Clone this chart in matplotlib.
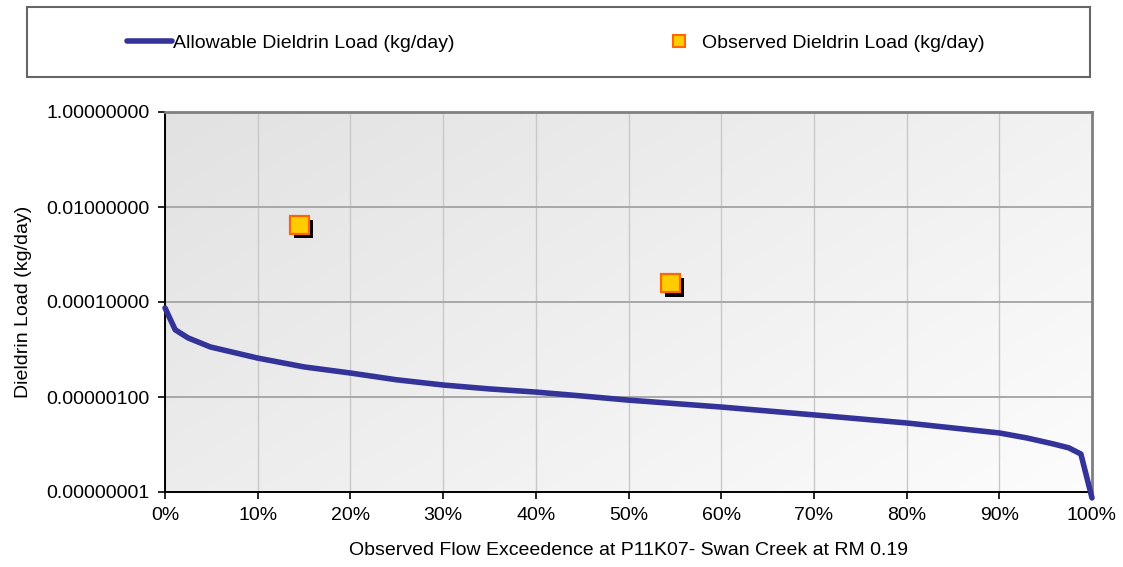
# -*- coding: utf-8 -*-
"""
Curva de duración de carga - Dieldrin, Swan Creek (P11K07)
"""
import numpy as np
import matplotlib
matplotlib.use('Agg')
import matplotlib.pyplot as plt
import matplotlib.patheffects as pe
from matplotlib.ticker import PercentFormatter, FixedLocator, FuncFormatter
from matplotlib.patches import Rectangle
from matplotlib.lines import Line2D

# =============================================================================
# DATOS
# =============================================================================
flow_exceedence = [0.000, 0.011, 0.025, 0.049, 0.10, 0.15, 0.20, 0.25, 0.30, 0.35,
                   0.40, 0.45, 0.50, 0.60, 0.70, 0.80, 0.90, 0.93, 0.958, 0.975,
                   0.988, 1.000]
allowable_load = [7.5e-5, 2.6e-5, 1.75e-5, 1.13e-5, 6.6e-6, 4.3e-6, 3.2e-6, 2.3e-6,
                  1.79e-6, 1.48e-6, 1.27e-6, 1.05e-6, 8.6e-7, 6.15e-7, 4.2e-7,
                  2.84e-7, 1.75e-7, 1.37e-7, 1.03e-7, 8.5e-8, 6.3e-8, 7.5e-9]

obs_exceedence = [0.145, 0.545]
observed_load = [4.2e-3, 2.5e-4]

y_ticks = [1e-8, 1e-6, 1e-4, 1e-2, 1.0]
x_ticks = [i / 10 for i in range(11)]

# =============================================================================
# ESTILO
# =============================================================================
plt.rcParams['font.family'] = ['Liberation Sans', 'DejaVu Sans']
plt.rcParams['font.size'] = 14

fig = plt.figure(figsize=(11.23, 5.67), dpi=100)
ax = fig.add_axes([165 / 1123, 1 - 492 / 567, 927 / 1123, 380 / 567])

# Fondo degradado gris (oscuro arriba-izquierda, claro abajo-derecha)
gx, gy = np.meshgrid(np.linspace(0, 1, 300), np.linspace(0, 1, 200))
t = 0.6 * gx + 0.4 * gy          # fila 0 = arriba
gris = 0.885 + (0.99 - 0.885) * t
fondo = np.dstack([gris, gris, gris])
ax.imshow(fondo, extent=(0, 1, 0, 1), transform=ax.transAxes,
          aspect='auto', zorder=0, origin='upper')

# Curva de carga permitida
ax.plot(flow_exceedence, allowable_load, color='#333399', lw=4.0,
        solid_capstyle='round', solid_joinstyle='round', clip_on=False, zorder=3)

# Cargas observadas con sombra
ax.plot(obs_exceedence, observed_load, ls='none', marker='s', markersize=13.5,
        markerfacecolor='#FFCC00', markeredgecolor='#FF6600', markeredgewidth=1.6,
        zorder=4,
        path_effects=[pe.SimplePatchShadow(offset=(3, -3), shadow_rgbFace='black',
                                           alpha=1.0), pe.Normal()])

# Ejes
ax.set_yscale('log')
ax.set_ylim(1e-8, 1)
ax.set_xlim(0, 1)
ax.yaxis.set_major_locator(FixedLocator(y_ticks))
ax.yaxis.set_minor_locator(FixedLocator([]))
ax.yaxis.set_major_formatter(FuncFormatter(lambda v, p: f'{v:.8f}'))
ax.xaxis.set_major_locator(FixedLocator(x_ticks))
ax.xaxis.set_major_formatter(PercentFormatter(xmax=1, decimals=0))

ax.tick_params(axis='both', direction='out', length=5, width=1.2, color='black',
               labelsize=14, pad=6)

# Rejilla
ax.xaxis.grid(True, color='#c8c8c8', lw=1.0, zorder=1)
ax.yaxis.grid(True, color='#a8a8a8', lw=1.4, zorder=1)
ax.set_axisbelow(True)

for side in ['top', 'right']:
    ax.spines[side].set_color('#808080')
    ax.spines[side].set_linewidth(2)
for side in ['left', 'bottom']:
    ax.spines[side].set_color('black')
    ax.spines[side].set_linewidth(1.4)

ax.set_xlabel('Observed Flow Exceedence at P11K07- Swan Creek at RM 0.19',
              fontsize=14, labelpad=13)
ax.set_ylabel('Dieldrin Load (kg/day)', fontsize=14)
ax.yaxis.set_label_coords(-0.1435, 0.5)

# =============================================================================
# LEYENDA (caja arriba)
# =============================================================================
box = Rectangle((27 / 1123, 1 - 77 / 567), (1090 - 27) / 1123, 70 / 567,
                transform=fig.transFigure, facecolor='white', edgecolor='#666666',
                lw=1.5, zorder=0)
fig.patches.append(box)

handles = [
    Line2D([], [], color='#333399', lw=4.0, solid_capstyle='round'),
    Line2D([], [], ls='none', marker='s', markersize=9, markerfacecolor='#FFCC00',
           markeredgecolor='#FF6600', markeredgewidth=1.5),
]
labels = ['Allowable Dieldrin Load (kg/day)', 'Observed Dieldrin Load (kg/day)']
fig.legend(handles, labels, ncol=2, loc='center', frameon=False,
           bbox_to_anchor=(556 / 1123, 1 - 43 / 567), fontsize=14,
           handlelength=2.3, handletextpad=0.05, columnspacing=10.4)

fig.savefig('out.png', dpi=100)
